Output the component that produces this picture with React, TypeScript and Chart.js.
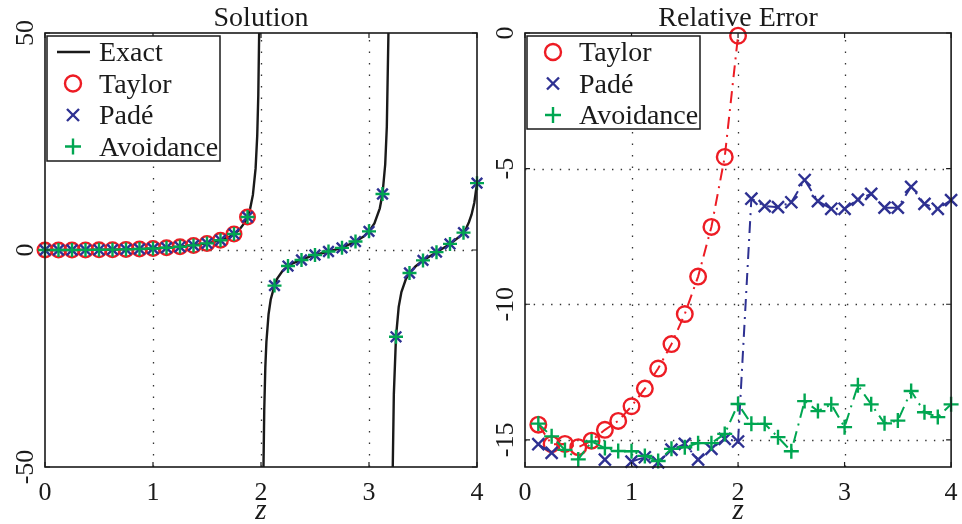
import React, { useEffect, useRef } from "react";
import { Chart, registerables } from "chart.js";

Chart.register(...registerables);

const RED = "rgb(237,28,36)";
const BLUE = "rgb(46,49,146)";
const GREEN = "rgb(0,166,81)";
const INK = "#1a1a1a";
const SERIF = '"Liberation Serif", "Times New Roman", serif';

// ---- axes ----
const xTicks = [0, 1, 2, 3, 4];
const xTickLabels = ["0", "1", "2", "3", "4"];
const solYTicks = [-50, 0, 50];
const solYTickLabels = ["-50", "0", "50"];
const errYTicks = [-15, -10, -5, 0];
const errYTickLabels = ["-15", "-10", "-5", "0"];

// ---- Solution: exact curve (null = pole) ----
const zExact = [
  0, 0.25, 0.5, 0.75, 1, 1.25, 1.5, 1.625, 1.7, 1.75, 1.8, 1.85, 1.875, 1.9, 1.925, 1.95, 1.965, 1.975, 1.983, 1.99, 1.995, 2.003,
  2.01, 2.015, 2.023, 2.03, 2.04, 2.05, 2.07, 2.09, 2.125, 2.15, 2.2, 2.25, 2.3, 2.375, 2.45, 2.5, 2.625, 2.75, 2.875, 2.95, 3, 3.05, 3.1, 3.125, 3.15, 3.165, 3.18, 3.19, 3.195, 3.2,
  3.205, 3.21, 3.22, 3.23, 3.25, 3.275, 3.3, 3.34, 3.375, 3.43, 3.5, 3.625, 3.75, 3.8, 3.85, 3.875, 3.9, 3.925, 3.95, 3.975, 4,
];
const yExact = [
  0, 0.005, 0.042, 0.143, 0.35, 0.74, 1.52, 2.2, 2.95, 3.65, 4.7, 6.35, 7.6, 9.6, 12.7, 18.8, 26.3, 35.7, 50, 77, 125, null,
  -143, -83, -50, -37, -27, -21.2, -14.8, -11.4, -8.2, -6.6, -4.8, -3.7, -3.0, -2.3, -1.55, -1.15, -0.35, 0.5, 1.95, 3.1, 4.3, 6.1, 9.6, 12.9, 19.7, 28.4, 50, 100, 200, null,
  -200, -100, -50, -33.2, -20, -13.1, -9.7, -6.8, -5.3, -3.8, -2.4, -0.5, 1.4, 2.35, 3.3, 4.0, 5.0, 6.4, 8.2, 10.9, 15.4,
];

// ---- Solution: sampled methods ----
const zSol = [
  0, 0.125, 0.25, 0.375, 0.5, 0.625, 0.75, 0.875, 1, 1.125, 1.25, 1.375, 1.5, 1.625, 1.75, 1.875,
  2, 2.125, 2.25, 2.375, 2.5, 2.625, 2.75, 2.875, 3, 3.125, 3.25, 3.375, 3.5, 3.625, 3.75, 3.875, 4,
];
const taylorSol = [0, 0.0007, 0.0052, 0.0176, 0.042, 0.082, 0.143, 0.23, 0.35, 0.515, 0.74, 1.06, 1.52, 2.25, 3.7, 7.6];
const padeSol = [
  0, 0.0007, 0.0052, 0.0176, 0.042, 0.082, 0.143, 0.23, 0.35, 0.515, 0.74, 1.06, 1.52, 2.25, 3.7, 7.6,
  330, -8.2, -3.7, -2.3, -1.15, -0.35, 0.5, 1.95, 4.3, 12.9, -20.0, -5.3, -2.4, -0.5, 1.4, 4.0, 15.4,
];
const avoidSol = [
  0, 0.0007, 0.0052, 0.0176, 0.042, 0.082, 0.143, 0.23, 0.35, 0.515, 0.74, 1.06, 1.52, 2.25, 3.7, 7.6,
  330, -8.2, -3.7, -2.3, -1.15, -0.35, 0.5, 1.95, 4.3, 12.9, -20.0, -5.3, -2.4, -0.5, 1.4, 4.0, 15.4,
];

// ---- Relative error (log10) ----
const zErr = [
  0.125, 0.25, 0.375, 0.5, 0.625, 0.75, 0.875, 1, 1.125, 1.25, 1.375, 1.5, 1.625, 1.75, 1.875, 2,
  2.125, 2.25, 2.375, 2.5, 2.625, 2.75, 2.875, 3, 3.125, 3.25, 3.375, 3.5, 3.625, 3.75, 3.875, 4,
];
const taylorErr = [-14.44, -15.16, -15.15, -15.27, -15.03, -14.63, -14.3, -13.76, -13.11, -12.37, -11.47, -10.36, -8.98, -7.15, -4.57, -0.1];
const padeErr = [
  -15.16, -15.48, null, null, null, -15.73, null, -15.8, -15.64, -15.83, -15.36, -15.15, -15.73, -15.33, -14.96, -15.06,
  -6.11, -6.38, -6.42, -6.24, -5.42, -6.2, -6.48, -6.48, -6.14, -5.93, -6.44, -6.44, -5.67, -6.3, -6.48, -6.16,
];
const avoidErr = [
  -14.4, -14.87, -15.37, -15.72, -15.06, -15.3, -15.41, -15.42, -15.59, -15.78, -15.33, -15.27, -15.12, -15.12, -14.78, -13.68,
  -14.41, -14.41, -14.9, -15.42, -13.57, -13.94, -13.69, -14.53, -12.99, -13.69, -14.39, -14.29, -13.2, -13.98, -14.16, -13.69,
];

type Kind = "line" | "circle" | "crossRot" | "cross";
type LegendRow = { label: string; kind: Kind; color: string };

const pts = (xs: number[], ys: (number | null)[]) => xs.map((x, i) => ({ x, y: ys[i] }));

function drawMarker(ctx: CanvasRenderingContext2D, kind: Kind, x: number, y: number, r: number, color: string) {
  ctx.save();
  ctx.setLineDash([]);
  ctx.strokeStyle = color;
  ctx.lineWidth = 2.4;
  ctx.beginPath();
  if (kind === "circle") {
    ctx.arc(x, y, r, 0, Math.PI * 2);
  } else if (kind === "cross") {
    ctx.moveTo(x - r, y);
    ctx.lineTo(x + r, y);
    ctx.moveTo(x, y - r);
    ctx.lineTo(x, y + r);
  } else if (kind === "crossRot") {
    const d = r * Math.SQRT1_2;
    ctx.moveTo(x - d, y - d);
    ctx.lineTo(x + d, y + d);
    ctx.moveTo(x - d, y + d);
    ctx.lineTo(x + d, y - d);
  } else {
    ctx.lineWidth = 2.6;
    ctx.moveTo(x - 16, y);
    ctx.lineTo(x + 17, y);
  }
  ctx.stroke();
  ctx.restore();
}

function framePlugin(cfg: {
  id: string;
  title: string;
  yTicks: number[];
  yLabels: string[];
  gridY: number[];
  legend: LegendRow[];
  legendH: number;
}) {
  return {
    id: cfg.id,
    beforeDatasetsDraw(chart: any) {
      const { ctx, chartArea: a, scales } = chart;
      ctx.save();
      ctx.strokeStyle = "#333";
      ctx.lineWidth = 1.3;
      ctx.setLineDash([1.4, 10.1]);
      for (const v of [1, 2, 3]) {
        const px = Math.round(scales.x.getPixelForValue(v)) + 0.5;
        ctx.beginPath();
        ctx.moveTo(px, a.bottom);
        ctx.lineTo(px, a.top);
        ctx.stroke();
      }
      ctx.setLineDash([1.4, 7.3]);
      for (const v of cfg.gridY) {
        const py = Math.round(scales.y.getPixelForValue(v)) + 0.5;
        ctx.beginPath();
        ctx.moveTo(a.left, py);
        ctx.lineTo(a.right, py);
        ctx.stroke();
      }
      ctx.restore();
    },
    afterDraw(chart: any) {
      const { ctx, chartArea: a, scales } = chart;
      const xs = scales.x;
      const ys = scales.y;
      ctx.save();
      ctx.setLineDash([]);
      ctx.strokeStyle = INK;
      ctx.lineWidth = 1.6;
      ctx.strokeRect(a.left, a.top, a.right - a.left, a.bottom - a.top);
      ctx.lineWidth = 1.2;
      ctx.beginPath();
      for (const v of xTicks) {
        const px = xs.getPixelForValue(v);
        ctx.moveTo(px, a.bottom);
        ctx.lineTo(px, a.bottom - 5);
        ctx.moveTo(px, a.top);
        ctx.lineTo(px, a.top + 5);
      }
      for (const v of cfg.yTicks) {
        const py = ys.getPixelForValue(v);
        ctx.moveTo(a.left, py);
        ctx.lineTo(a.left + 5, py);
        ctx.moveTo(a.right, py);
        ctx.lineTo(a.right - 5, py);
      }
      ctx.stroke();

      ctx.fillStyle = INK;
      ctx.textAlign = "center";
      ctx.textBaseline = "alphabetic";
      ctx.font = `26px ${SERIF}`;
      xTicks.forEach((v, i) => ctx.fillText(xTickLabels[i], xs.getPixelForValue(v), a.bottom + 33));
      cfg.yTicks.forEach((v, i) => {
        ctx.save();
        ctx.translate(a.left - 12, ys.getPixelForValue(v));
        ctx.rotate(-Math.PI / 2);
        ctx.fillText(cfg.yLabels[i], 0, 0);
        ctx.restore();
      });
      const cx = (a.left + a.right) / 2;
      ctx.font = `28px ${SERIF}`;
      ctx.fillText(cfg.title, cx, 26);
      ctx.font = `italic 29px ${SERIF}`;
      ctx.fillText("z", cx, 519);

      // legend
      const bx = a.left + 2;
      const by = a.top + 3;
      ctx.fillStyle = "#fff";
      ctx.fillRect(bx, by, 173, cfg.legendH);
      ctx.strokeStyle = INK;
      ctx.lineWidth = 1.5;
      ctx.strokeRect(bx, by, 173, cfg.legendH);
      ctx.font = `28px ${SERIF}`;
      ctx.textAlign = "left";
      cfg.legend.forEach((row, i) => {
        const y = by + 16 + i * 31.5;
        if (row.kind === "line") {
          drawMarker(ctx, "line", bx + 26, y, 0, row.color);
        } else {
          drawMarker(ctx, row.kind, bx + 26, y, row.kind === "crossRot" ? 8.5 : 8, row.color);
        }
        ctx.fillStyle = INK;
        ctx.fillText(row.label, bx + 52, y + 9);
      });
      ctx.restore();
    },
  };
}

function baseOptions(padRight: number, yWidth: number, yMin: number, yMax: number): any {
  return {
    responsive: false,
    animation: false,
    events: [],
    devicePixelRatio: 1,
    layout: { padding: { left: 0, right: padRight, top: 33, bottom: 0 } },
    plugins: { legend: { display: false }, tooltip: { enabled: false }, title: { display: false } },
    scales: {
      x: {
        type: "linear",
        min: 0,
        max: 4,
        ticks: { display: false },
        grid: { display: false },
        border: { display: false },
        afterFit: (s: any) => {
          s.height = 57;
        },
      },
      y: {
        type: "linear",
        min: yMin,
        max: yMax,
        ticks: { display: false },
        grid: { display: false },
        border: { display: false },
        afterFit: (s: any) => {
          s.width = yWidth;
        },
      },
    },
  };
}

const markerDs = (data: any[], style: string, r: number, color: string, order: number, line: boolean) => ({
  data,
  showLine: line,
  borderColor: color,
  borderWidth: 2,
  borderDash: [12, 6, 2, 6],
  spanGaps: false,
  tension: 0,
  pointStyle: style,
  pointRadius: r,
  pointBorderWidth: 2.4,
  pointBorderColor: color,
  pointBackgroundColor: "rgba(0,0,0,0)",
  clip: 12,
  order,
});

export default function App() {
  const leftRef = useRef<HTMLCanvasElement>(null);
  const rightRef = useRef<HTMLCanvasElement>(null);

  useEffect(() => {
    const left = new Chart(leftRef.current as HTMLCanvasElement, {
      type: "scatter",
      data: {
        datasets: [
          {
            data: pts(zExact, yExact),
            showLine: true,
            borderColor: INK,
            borderWidth: 2.4,
            pointRadius: 0,
            spanGaps: false,
            tension: 0,
            order: 4,
          } as any,
          markerDs(pts(zSol.slice(0, taylorSol.length), taylorSol), "circle", 7.3, RED, 3, false),
          markerDs(pts(zSol, padeSol), "crossRot", 7.5, BLUE, 2, false),
          markerDs(pts(zSol, avoidSol), "cross", 7, GREEN, 1, false),
        ],
      },
      options: baseOptions(23, 45, -50, 50),
      plugins: [
        framePlugin({
          id: "frameLeft",
          title: "Solution",
          yTicks: solYTicks,
          yLabels: solYTickLabels,
          gridY: [0],
          legend: [
            { label: "Exact", kind: "line", color: INK },
            { label: "Taylor", kind: "circle", color: RED },
            { label: "Padé", kind: "crossRot", color: BLUE },
            { label: "Avoidance", kind: "cross", color: GREEN },
          ],
          legendH: 125,
        }),
      ],
    } as any);

    const right = new Chart(rightRef.current as HTMLCanvasElement, {
      type: "scatter",
      data: {
        datasets: [
          markerDs(pts(zErr.slice(0, taylorErr.length), taylorErr), "circle", 7.8, RED, 3, true),
          markerDs(pts(zErr, padeErr), "crossRot", 8.5, BLUE, 2, true),
          markerDs(pts(zErr, avoidErr), "cross", 7.5, GREEN, 1, true),
        ],
      },
      options: baseOptions(5, 44, -16, 0),
      plugins: [
        framePlugin({
          id: "frameRight",
          title: "Relative Error",
          yTicks: errYTicks,
          yLabels: errYTickLabels,
          gridY: [-15, -10, -5],
          legend: [
            { label: "Taylor", kind: "circle", color: RED },
            { label: "Padé", kind: "crossRot", color: BLUE },
            { label: "Avoidance", kind: "cross", color: GREEN },
          ],
          legendH: 93,
        }),
      ],
    } as any);

    return () => {
      left.destroy();
      right.destroy();
    };
  }, []);

  return (
    <div style={{ position: "fixed", left: 0, top: 0, width: 962, height: 524, background: "#fff", overflow: "hidden" }}>
      <canvas ref={leftRef} width={500} height={524} style={{ position: "absolute", left: 0, top: 0, width: 500, height: 524 }} />
      <canvas ref={rightRef} width={481} height={524} style={{ position: "absolute", left: 481, top: 0, width: 481, height: 524 }} />
    </div>
  );
}
